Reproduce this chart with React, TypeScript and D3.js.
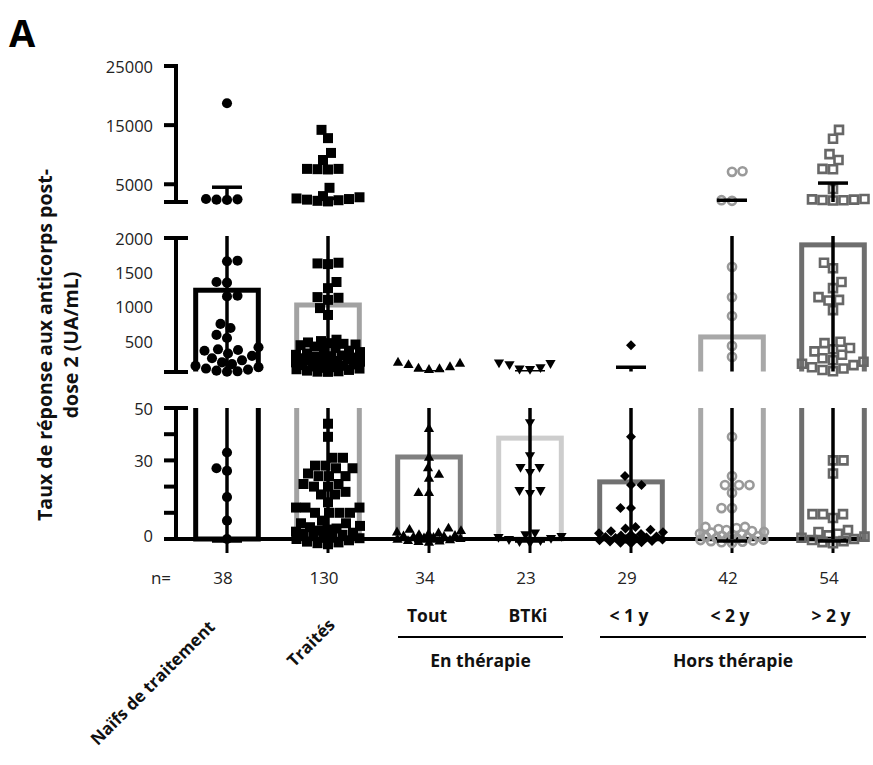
import React from "react";
import * as d3 from "d3";

// ---------- data ----------
const categories = ["Naïfs de traitement", "Traités", "Tout", "BTKi", "< 1 y", "< 2 y", "> 2 y"];
const nCounts = ["38", "130", "34", "23", "29", "42", "54"];
const means = [1240, 1025, 31.3, 38.5, 21.8, 560, 1900];
const sdHigh = [4500, 2600, 55, 55, 120, 2300, 5200];
const sdLow = [0, 0, 0, 0, 0, 0, 0];

const naifsValues = [
  18700, 2500, 2450, 2400, 2350,
  1670, 1660, 1360, 1350, 1160, 1150, 750, 690, 590, 545, 380, 370,
  410, 360, 320, 285, 250, 220, 190, 165, 140, 120, 100, 85, 70, 60, 55,
  33, 27, 26, 16, 7, 0,
];
const traitesValues = [
  14200, 12800, 10300, 9100, 7600, 7600, 7550, 7500, 4400, 3000, 2800, 2600, 2500, 2400, 2300, 2200, 2100,
  1640, 1630, 1620, 1360, 1270, 1140, 1130, 1100, 980, 880,
  520, 500, 480, 470, 460, 450, 440, 420, 400, 380, 360, 340, 320, 300, 290, 280, 270, 260, 250, 240,
  230, 220, 210, 200, 190, 180, 170, 160, 150, 140, 130, 120, 110, 100, 90, 80, 70, 60, 55, 52,
  44, 39, 31, 31, 28, 28, 27, 27, 25, 24, 24, 24, 21, 21, 20, 20, 18, 17, 17, 14, 12, 12, 12,
  10, 10, 10, 10, 7, 6, 6, 5, 4.5, 4, 3.6, 3.2, 2.8, 2.4, 2, 1.6, 1.3, 1, 0.6, 0.3, 0, -0.5, -1, -1.3, -1.6, -2,
];
const toutValues = [
  185, 170, 150, 120, 100, 90, 80,
  42, 31, 27, 24.5, 23, 17.5, 17.5,
  4, 3.5, 3, 2.5, 2.1, 1.8, 1.5, 1.2, 1, 0.8, 0.6, 0.4, 0.2, 0, -0.3, -0.5, -0.8, -1, -1.2, -1.5,
];
const btkiValues = [
  190, 180, 165, 120, 100, 95,
  44.6, 32, 27.5, 27.5, 25.6, 18.7, 18.7, 17.6,
  2.5, 1.8, 1.2, 0.8, 0.4, 0, -0.4, -0.8, -1.2,
];
const under1yValues = [
  440,
  39, 24, 20.6, 20.6, 11.8, 11.8, 4.6,
  4, 3.5, 3, 2.6, 2.2, 1.9, 1.6, 1.3, 1, 0.8, 0.6, 0.4, 0.2, 0, -0.2, -0.5, -0.8, -1, -1.2, -1.4, -1.6,
];
const under2yValues = [
  7200, 7100, 2300, 2200,
  1580, 1140, 865, 430, 270,
  39, 24, 20.6, 20.6, 20.6, 17.6, 11.8, 11.8, 4.6, 4.6,
  4.2, 3.8, 3.4, 3, 2.7, 2.4, 2.1, 1.8, 1.5, 1.2, 1, 0.8, 0.6, 0.4, 0.2, 0, -0.2, -0.4, -0.6, -0.8, -1, -1.2, -1.5,
];
const over2yValues = [
  14200, 12700, 10100, 9100, 7600, 7550, 4200, 2500, 2450, 2400, 2350, 2300, 2250,
  1640, 1560, 1360, 1270, 1140, 1100, 1090, 950,
  490, 470, 400, 380, 350, 300, 250, 220, 200, 170, 150, 120, 100, 80, 60,
  30, 30, 25, 9.5, 9.5, 9.5, 8, 3.4, 2.7, 2, 1.4, 0.9, 0.5, 0, -0.4, -0.8, -1.2, -1.6,
];
const groupValues = [naifsValues, traitesValues, toutValues, btkiValues, under1yValues, under2yValues, over2yValues];

const topTicks = [25000, 15000, 5000];
const midTicks = [2000, 1500, 1000, 500];
const bottomTicks = [50, 30, 0];
const bottomMinorTicks = [40, 20, 10];

const groupTitles = ["En thérapie", "Hors thérapie"];
const groupSpans = [[2, 3], [4, 6]];

const yTitleLines = ["Taux de réponse aux anticorps post-", "dose 2 (UA/mL)"];

// ---------- styles ----------
const barColors = ["#000000", "#a2a2a2", "#808080", "#cdcdcd", "#717171", "#a8a8a8", "#6e6e6e"];
const markerTypes = ["circle", "square", "triangle", "triangleDown", "diamond", "openCircle", "openSquare"];
const markerColors = ["#000", "#000", "#000", "#000", "#000", "#9a9a9a", "#676767"];
const FONT = "'Open Sans', 'DejaVu Sans', sans-serif";

// ---------- layout ----------
const W = 873, H = 765;
const axisX = 176;
const x = d3.scalePoint<string>().domain(categories).range([227, 833]);
const step = x.step();
const barW = step * 0.62;

type Seg = { key: string; scale: d3.ScaleLinear<number, number>; clip: [number, number]; ext: number };
const segs: Seg[] = [
  { key: "top", scale: d3.scaleLinear().domain([2000, 25000]).range([202, 66]), clip: [62, 202], ext: 12 },
  { key: "mid", scale: d3.scaleLinear().domain([50, 2000]).range([372, 238]), clip: [236, 371.5], ext: 12 },
  { key: "bot", scale: d3.scaleLinear().domain([0, 50]).range([539, 408]), clip: [408, 560], ext: 0 },
];
const segOf = (v: number) => (v > 2000 ? segs[0] : v >= 50 ? segs[1] : segs[2]);

function swarm(ys: number[], D: number, maxOff: number): number[] {
  const order = ys.map((_, i) => i).sort((a, b) => ys[b] - ys[a]);
  const xs = new Array(ys.length).fill(0);
  const placed: [number, number][] = [];
  let lastSide = 1;
  for (const i of order) {
    const y = ys[i];
    const near = placed.filter((p) => Math.abs(p[1] - y) < D);
    const minDist = (o: number) => {
      let m = Infinity;
      for (const p of near) {
        const d = Math.hypot(p[0] - o, p[1] - y);
        if (d < m) m = d;
      }
      return m;
    };
    let chosen: number | null = null;
    let best = 0, bestD = -1;
    for (let o = 0; o <= maxOff; o += 0.5) {
      const cands = o === 0 ? [0] : [-lastSide * o, lastSide * o];
      for (const c of cands) {
        const md = minDist(c);
        if (md >= D) { chosen = c; break; }
        if (md > bestD) { bestD = md; best = c; }
      }
      if (chosen !== null) break;
    }
    const off = chosen !== null ? chosen : best;
    if (off !== 0) lastSide = Math.sign(off);
    xs[i] = off;
    placed.push([off, y]);
  }
  return xs;
}

function marker(type: string) {
  switch (type) {
    case "circle": return { d: d3.symbol().type(d3.symbolCircle).size(80)()!, rot: 0, fill: true };
    case "square": return { d: d3.symbol().type(d3.symbolSquare).size(100)()!, rot: 0, fill: true };
    case "triangle": return { d: d3.symbol().type(d3.symbolTriangle).size(45)()!, rot: 0, fill: true };
    case "triangleDown": return { d: d3.symbol().type(d3.symbolTriangle).size(45)()!, rot: 180, fill: true };
    case "diamond": return { d: d3.symbol().type(d3.symbolSquare).size(50)()!, rot: 45, fill: true };
    case "openCircle": return { d: d3.symbol().type(d3.symbolCircle).size(52)()!, rot: 0, fill: false };
    default: return { d: d3.symbol().type(d3.symbolSquare).size(64)()!, rot: 0, fill: false };
  }
}

export default function App() {
  const points = groupValues.map((vals, gi) => {
    const ys = vals.map((v) => segOf(v).scale(v));
    const offs = swarm(ys, 10.5, 32);
    return vals.map((v, i) => ({ x: x(categories[gi])! + offs[i], y: ys[i] }));
  });

  const tickLabel = (v: number, y: number, key: string) => (
    <text key={key} x={153} y={y} textAnchor="end" dominantBaseline="central" fontSize={16.5} fill="#222">
      {v}
    </text>
  );

  return (
    <svg width={W} height={H} style={{ position: "absolute", left: 0, top: 0, background: "#fff" }} fontFamily={FONT}>
      <defs>
        {segs.map((s) => (
          <clipPath id={`clip-${s.key}`} key={s.key}>
            <rect x={0} y={s.clip[0]} width={W} height={s.clip[1] - s.clip[0]} />
          </clipPath>
        ))}
      </defs>

      {/* Panel letter */}
      <text x={9} y={47} fontSize={38} fontWeight="bold" fill="#000">A</text>

      {/* Y title */}
      {yTitleLines.map((t, i) => (
        <text key={t} transform={`translate(${52 + i * 26},345) rotate(-90)`} textAnchor="middle" fontSize={19.5} fontWeight="bold" fill="#111">
          {t}
        </text>
      ))}

      {/* bars per segment */}
      {segs.map((s) => (
        <g key={`bars-${s.key}`} clipPath={`url(#clip-${s.key})`}>
          {means.map((m, gi) => {
            const d0 = s.scale.domain()[0];
            if (m < d0) return null;
            const yTop = s.scale(m);
            const yBot = s.scale(d0) + s.ext;
            const cx = x(categories[gi])!;
            return (
              <rect key={gi} x={cx - barW / 2} y={yTop} width={barW} height={yBot - yTop}
                fill="none" stroke={barColors[gi]} strokeWidth={5} />
            );
          })}
        </g>
      ))}

      {/* axes */}
      <g stroke="#000" strokeWidth={4} fill="none">
        {segs.map((s) => {
          const [a, b] = s.scale.range();
          return <line key={`ax-${s.key}`} x1={axisX} x2={axisX} y1={b} y2={a} />;
        })}
        <line x1={164} x2={178} y1={segs[0].scale(25000)} y2={segs[0].scale(25000)} />
        {topTicks.slice(1).map((t) => (
          <line key={`tt${t}`} x1={164} x2={176} y1={segs[0].scale(t)} y2={segs[0].scale(t)} />
        ))}
        <line x1={164} x2={188} y1={segs[0].scale(2000)} y2={segs[0].scale(2000)} />
        <line x1={164} x2={188} y1={segs[1].scale(2000)} y2={segs[1].scale(2000)} />
        <line x1={164} x2={188} y1={segs[1].scale(50)} y2={segs[1].scale(50)} />
        <line x1={164} x2={188} y1={segs[2].scale(50)} y2={segs[2].scale(50)} />
        {[30, ...bottomMinorTicks].map((t) => (
          <line key={`bt${t}`} x1={164} x2={176} y1={segs[2].scale(t)} y2={segs[2].scale(t)} />
        ))}
        <line x1={164} x2={862} y1={segs[2].scale(0)} y2={segs[2].scale(0)} />
        {categories.map((c) => (
          <line key={`xt-${c}`} x1={x(c)!} x2={x(c)!} y1={segs[2].scale(0)} y2={segs[2].scale(0) + 14} strokeWidth={3} />
        ))}
      </g>

      {/* tick labels */}
      {topTicks.map((t) => tickLabel(t, segs[0].scale(t), `tl-top-${t}`))}
      {midTicks.map((t) => tickLabel(t, segs[1].scale(t), `tl-mid-${t}`))}
      {bottomTicks.map((t) => tickLabel(t, segs[2].scale(t) - (t === 0 ? 4 : 0), `tl-bot-${t}`))}

      {/* points */}
      {points.map((pts, gi) => {
        const mk = marker(markerTypes[gi]);
        const col = markerColors[gi];
        return (
          <g key={`pts-${gi}`}>
            {pts.map((p, i) => (
              <path key={i} d={mk.d} transform={`translate(${p.x},${p.y}) rotate(${mk.rot})`}
                fill={mk.fill ? col : "none"} stroke={mk.fill ? "none" : col} strokeWidth={mk.fill ? 0 : 2.6} />
            ))}
          </g>
        );
      })}

      {/* error bars per segment */}
      {segs.map((s) => (
        <g key={`err-${s.key}`} clipPath={`url(#clip-${s.key})`} stroke="#000" strokeWidth={3.5}>
          {categories.map((c, gi) => {
            const cx = x(c)!;
            const yHi = s.scale(sdHigh[gi]);
            const yLo = s.scale(sdLow[gi]);
            return (
              <g key={gi}>
                <line x1={cx} x2={cx} y1={yHi} y2={yLo} />
                <line x1={cx - 15} x2={cx + 15} y1={yHi} y2={yHi} />
                {s.key === "bot" && <line x1={cx - 15} x2={cx + 15} y1={yLo + 2} y2={yLo + 2} />}
              </g>
            );
          })}
        </g>
      ))}

      {/* n row */}
      <text x={161} y={577} textAnchor="middle" dominantBaseline="central" fontSize={17} fill="#222">n=</text>
      {nCounts.map((n, i) => (
        <text key={`n${i}`} x={x(categories[i])! - 4} y={577} textAnchor="middle" dominantBaseline="central" fontSize={17} fill="#222">
          {n}
        </text>
      ))}

      {/* rotated labels */}
      {categories.slice(0, 2).map((c, i) => (
        <text key={`rl${i}`} transform={`translate(${x(c)! + (i === 0 ? -11 : 8)},${i === 0 ? 628 : 626}) rotate(-45)`}
          textAnchor="end" fontSize={17} fontWeight="bold" fill="#111">
          {c}
        </text>
      ))}

      {/* sub labels */}
      {categories.slice(2).map((c) => (
        <text key={`sl-${c}`} x={x(c)! - 2} y={615} textAnchor="middle" dominantBaseline="central" fontSize={17.5} fontWeight="bold" fill="#111">
          {c}
        </text>
      ))}

      {/* group titles */}
      {groupTitles.map((g, i) => {
        const [a, b] = groupSpans[i];
        const x0 = x(categories[a])! - 31;
        const x1 = x(categories[b])! + 33;
        return (
          <g key={g}>
            <line x1={x0} x2={x1} y1={637} y2={637} stroke="#000" strokeWidth={2} />
            <text x={(x0 + x1) / 2} y={660} textAnchor="middle" dominantBaseline="central" fontSize={17.5} fontWeight="bold" fill="#111">
              {g}
            </text>
          </g>
        );
      })}
    </svg>
  );
}
